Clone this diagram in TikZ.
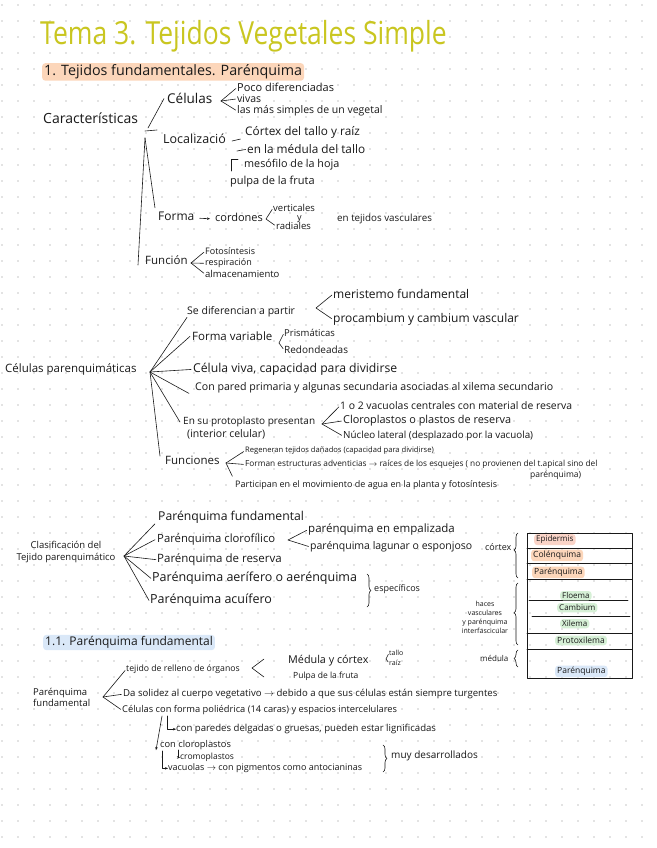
\documentclass[tikz,border=0pt]{standalone}
\usepackage{graphicx}
\usepackage{fontspec}
\setmainfont{Open Sans}
\usetikzlibrary{arrows.meta,decorations.pathreplacing}
\definecolor{titlecol}{RGB}{201,198,32}
\definecolor{hlorange}{RGB}{252,214,186}
\definecolor{hlpink}{RGB}{250,212,200}
\definecolor{hlgreen}{RGB}{214,240,214}
\definecolor{hlblue}{RGB}{218,232,248}
\definecolor{ink}{RGB}{25,25,25}
\definecolor{dotcol}{RGB}{200,200,200}
\tikzset{
  hw/.style={anchor=mid west, inner sep=0pt, text=ink,
             font=\fontsize{#1}{#1}\selectfont},
  hw/.default=10,
  hlbox/.style={fill=#1, rounded corners=3pt, inner xsep=2pt, inner ysep=1.5pt},
  stroke/.style={draw=ink, line width=0.6pt, line cap=round, line join=round},
  fork/.style={stroke, shorten >=1.5pt},
  tipped/.style={stroke, -{Stealth[length=3pt,width=2.5pt]}},
  rbrace/.style={stroke, decorate, decoration={brace, amplitude=4pt}}
}

\begin{document}
\begin{tikzpicture}[x=1pt, y=-1pt]
  \useasboundingbox (0,0) rectangle (656,848);
  \fill[white] (0,0) rectangle (656,848);
  % dot grid
  \foreach \i in {0,...,40} {
    \foreach \j in {0,...,52} {
      \fill[dotcol] (2+16*\i, 5+16*\j) circle (0.8);
    }
  }

  % title and heading
  \node[hw=26.5, text=titlecol] (title) at (40,42)
    {\scalebox{1}[1.2]{Tema 3. Tejidos Vegetales Simple}};
  \node[hw=14.3, hlbox=hlorange] (h1) at (42,73) {1. Tejidos fundamentales. Parénquima};

  % caracteristicas
  \node[hw=14] (car) at (43,121) {Características};
  \node[hw=13.5] (cel) at (167,101) {Células};
  \node[hw=11] (poco) at (237,89) {Poco diferenciadas};
  \node[hw=10.5] (viv) at (237,100) {vivas};
  \node[hw=10.5] (simp) at (237,111) {las más simples de un vegetal};
  \node[hw=12.5] (loc) at (163,141) {Localizació};
  \node[hw=11.8] (ctx) at (245,133) {Córtex del tallo y raíz};
  \node[hw=11.8] (medt) at (247,151) {en la médula del tallo};
  \node[hw=10.8] (mes) at (244,165) {mesófilo de la hoja};
  \node[hw=11] (pul) at (230,182) {pulpa de la fruta};
  \node[hw=12] (forma) at (158,218) {Forma};
  \node[hw=11] (cord) at (215,219) {cordones};
  \node[hw=9.5] (vert) at (273,209) {verticales};
  \node[hw=9] (yy) at (297,218) {y};
  \node[hw=9.5] (rad) at (276,227) {radiales};
  \node[hw=9.8] (vasc) at (337,219) {en tejidos vasculares};
  \node[hw=11.5] (fun) at (145,262) {Función};
  \node[hw=9] (foto) at (205,252) {Fotosíntesis};
  \node[hw=9] (resp) at (205,263) {respiración};
  \node[hw=9.5] (alm) at (205,275) {almacenamiento};

  \coordinate (c0) at (148,128);
  \coordinate (c1) at (145,131);
  \coordinate (c2) at (157,130);
  \coordinate (c3) at (145,138);
  \draw[stroke] (c0) -- ([xshift=-3pt]cel.west);
  \draw[stroke] (c1) -- (c2);
  \draw[stroke] (c3) -- ([xshift=-7pt]fun.south west);
  \draw[stroke] (c3) -- ([xshift=-3pt,yshift=4pt]forma.north west);
  \coordinate (k1) at (221,101);
  \foreach \n in {poco,viv,simp} \draw[fork] (k1) -- (\n.west);
  \coordinate (l1) at (232,141);
  \coordinate (l2) at (237,151);
  \coordinate (l3) at (231,171);
  \draw[fork] (l1) -- ([xshift=-3pt]ctx.south west);
  \draw[fork] (l2) -- (medt.west);
  \draw[stroke] (l3) |- ([xshift=-6pt]mes.north west);
  \draw[tipped, shorten <=5pt, shorten >=5pt] (forma.mid east) -- (cord.mid west);
  \coordinate (k2) at (266,219);
  \foreach \n in {vert,rad} \draw[fork] (k2) -- (\n.west);
  \coordinate (k3) at (191,263);
  \foreach \n in {foto,resp,alm} \draw[fork] (k3) -- (\n.west);

  % celulas parenquimaticas
  \node[hw=11.5] (cp) at (5,370) {Células parenquimáticas};
  \node[hw=10.5] (dif) at (187,312) {Se diferencian a partir};
  \node[hw=12] (mer) at (333,296) {meristemo fundamental};
  \node[hw=12] (proc) at (333,320) {procambium y cambium vascular};
  \node[hw=11.5] (fvar) at (192,338) {Forma variable};
  \node[hw=9.5] (pris) at (284,334) {Prismáticas};
  \node[hw=10] (redo) at (284,351) {Redondeadas};
  \node[hw=12.2] (viva) at (193,370) {Célula viva, capacidad para dividirse};
  \node[hw=10.6] (pared) at (195,388)
    {Con pared primaria y algunas secundaria asociadas al xilema secundario};
  \node[hw=10] (prot) at (183,422) {En su protoplasto presentan};
  \node[hw=10.5] (intc) at (187,435) {(interior celular)};
  \node[hw=10.4] (vac) at (340,407) {1 o 2 vacuolas centrales con material de reserva};
  \node[hw=10.9] (clo) at (343,421) {Cloroplastos o plastos de reserva};
  \node[hw=9.8] (nuc) at (343,436) {Núcleo lateral (desplazado por la vacuola)};
  \node[hw=11.5] (func) at (165,462) {Funciones};
  \node[hw=7.6] (reg) at (245,450) {Regeneran tejidos dañados (capacidad para dividirse)};
  \node[hw=8.3] (form) at (245,464)
    {Forman estructuras adventicias $\rightarrow$ raíces de los esquejes ( no provienen del t.apical sino del};
  \node[hw=8.5] (parq) at (530,475) {parénquima)};
  \node[hw=9] (part) at (235,485)
    {Participan en el movimiento de agua en la planta y fotosíntesis};

  \coordinate (f2) at (150,372);
  \draw[stroke] (f2) -- (dif.south west);
  \draw[stroke] (f2) -- ([xshift=-2pt]fvar.west);
  \draw[stroke] (f2) -- ([xshift=-2pt]viva.west);
  \draw[stroke] (f2) -- ([xshift=-6pt]pared.south west);
  \draw[stroke] (f2) -- ([xshift=-3pt]prot.west);
  \draw[stroke] (f2) -- ([xshift=-5pt]func.north west);
  \coordinate (k4) at (316,308);
  \foreach \n in {mer,proc} \draw[fork] (k4) -- (\n.west);
  \coordinate (k5) at (279,343);
  \foreach \n in {pris,redo} \draw[fork] (k5) -- (\n.west);
  \coordinate (k6) at (322,424);
  \foreach \n in {vac,clo,nuc} \draw[fork] (k6) -- (\n.west);
  \coordinate (k7) at (226,463);
  \foreach \n in {reg,form} \draw[fork] (k7) -- (\n.west);
  \draw[fork] (k7) -- ([xshift=-2pt,yshift=3pt]part.north west);

  % clasificacion
  \node[inner sep=0pt, text=ink, align=center, font=\fontsize{9.5}{12}\selectfont]
    (clas) at (66,552) {Clasificación del\\Tejido parenquimático};
  \node[hw=12.2] (pfu) at (158,518) {Parénquima fundamental};
  \node[hw=11.3] (pcl) at (157,540) {Parénquima clorofílico};
  \node[hw=11.5] (emp) at (308,530) {parénquima en empalizada};
  \node[hw=10.5] (lag) at (310,547) {parénquima lagunar o esponjoso};
  \node[hw=9] (ctx2) at (485,548) {córtex};
  \node[hw=11.5] (pre) at (157,560) {Parénquima de reserva};
  \node[hw=12.5] (pae) at (152,579) {Parénquima aerífero o aerénquima};
  \node[hw=12.5] (pac) at (150,601) {Parénquima acuífero};
  \node[hw=9] (esp) at (374,589) {específicos};

  \coordinate (f3) at (124,556);
  \draw[stroke] (f3) -- ([xshift=-3pt]pfu.south west);
  \draw[stroke] (f3) -- ([xshift=-2pt]pcl.west);
  \draw[stroke] (f3) -- ([xshift=-1pt]pre.west);
  \draw[stroke] (f3) -- ([xshift=-1pt]pae.west);
  \draw[stroke] (f3) -- ([xshift=-1pt]pac.west);
  \coordinate (k8) at (288,540);
  \foreach \n in {emp,lag} \draw[fork] (k8) -- (\n.west);
  \coordinate (b1) at (367,574);
  \coordinate (b2) at (367,607);
  \draw[rbrace] (b1) -- (b2);

  % tabla de tejidos
  \draw[stroke] (527,533) rectangle (632,678);
  \foreach \y in {548,563,579,633,649} \draw[stroke] (527,\y) -- (632,\y);
  \draw[stroke] (529,600) -- (628,600);
  \draw[stroke] (532,616) -- (630,616);
  \node[hw=8, hlbox=hlpink] (epi) at (534,539) {Epidermis};
  \node[hw=8.5, hlbox=hlorange] (col) at (531,555) {Colénquima};
  \node[hw=8.5, hlbox=hlorange] (par1) at (532,572) {Parénquima};
  \node[hw=8, hlbox=hlgreen] (flo) at (560,596) {Floema};
  \node[hw=8, hlbox=hlgreen] (cam) at (557,608) {Cambium};
  \node[hw=8, hlbox=hlgreen] (xil) at (560,624) {Xilema};
  \node[hw=8.5, hlbox=hlgreen] (prx) at (555,641) {Protoxilema};
  \node[hw=8.5, hlbox=hlblue] (par2) at (555,671) {Parénquima};
  \node[inner sep=0pt, text=ink, align=center, font=\fontsize{7}{9}\selectfont]
    (hac) at (485,617) {haces\\vasculares\\y parénquima\\interfascicular};
  \node[hw=8] (medl) at (480,659) {médula};
  \coordinate (b3) at (518,578);
  \coordinate (b4) at (518,533);
  \coordinate (b5) at (518,645);
  \coordinate (b6) at (518,583);
  \coordinate (b7) at (518,667);
  \coordinate (b8) at (518,650);
  \draw[rbrace, decoration={aspect=0.62}] (b3) -- (b4);
  \draw[rbrace, decoration={aspect=0.52}] (b5) -- (b6);
  \draw[rbrace] (b7) -- (b8);

  % parenquima fundamental
  \node[hw=12, hlbox=hlblue] (h2) at (43,643) {1.1. Parénquima fundamental};
  \node[inner sep=0pt, text=ink, anchor=west, align=left, font=\fontsize{9.5}{11}\selectfont]
    (pf) at (33,697) {Parénquima\\fundamental};
  \node[hw=8.7] (tej) at (126,669) {tejido de relleno de órganos};
  \node[hw=10.8] (mco) at (288,661) {Médula y córtex};
  \node[hw=7] (tal) at (389,653) {tallo};
  \node[hw=7] (rai) at (389,663) {raíz};
  \node[hw=8.5] (pfr) at (293,676) {Pulpa de la fruta};
  \node[hw=9.6] (da) at (123,694)
    {Da solidez al cuerpo vegetativo $\rightarrow$ debido a que sus células están siempre turgentes};
  \node[hw=9.3] (cel4) at (122,710)
    {Células con forma poliédrica (14 caras) y espacios intercelulares};
  \node[hw=9.6] (pdel) at (176,729)
    {con paredes delgadas o gruesas, pueden estar lignificadas};
  \node[hw=9.3] (ccl) at (160,745) {con cloroplastos};
  \node[hw=8.5] (cro) at (180,757) {cromoplastos};
  \node[hw=9] (vcu) at (168,768) {vacuolas $\rightarrow$ con pigmentos como antocianinas};
  \node[hw=10] (muy) at (391,756) {muy desarrollados};

  \coordinate (k9) at (103,697);
  \foreach \n in {tej,da,cel4} \draw[fork] (k9) -- (\n.west);
  \coordinate (k10) at (252,668);
  \coordinate (a1) at (264,659);
  \coordinate (a2) at (264,677);
  \draw[stroke] (a1) -- (k10) -- (a2);
  \coordinate (k11) at (386,659);
  \foreach \n in {tal,rai} \draw[fork] (k11) -- (\n.west);
  \coordinate (d1) at (167,716);
  \coordinate (d2) at (162,716);
  \coordinate (d3) at (178,750);
  \coordinate (d4) at (162,751);
  \draw[tipped] (d1) |- (pdel.west);
  \draw[tipped] (d2) -- ([xshift=-4pt]ccl.south west);
  \draw[tipped] (d3) |- (cro.west);
  \draw[tipped] (d4) |- (vcu.west);
  \coordinate (b9) at (383,745);
  \coordinate (b10) at (383,772);
  \draw[rbrace] (b9) -- (b10);
\end{tikzpicture}
\end{document}
